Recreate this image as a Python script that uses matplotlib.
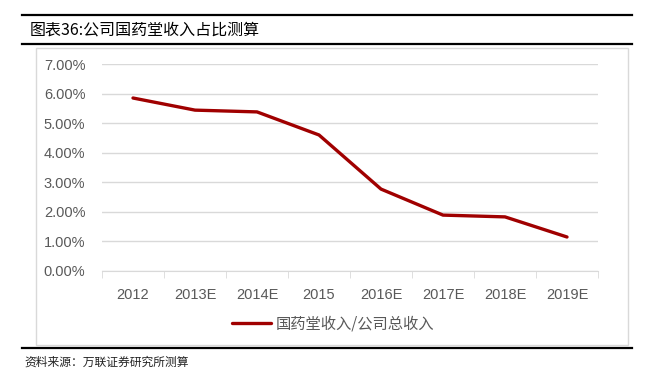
import matplotlib
matplotlib.use('Agg')
import matplotlib.pyplot as plt
from matplotlib.lines import Line2D
from matplotlib.patches import Rectangle

plt.rcParams['font.family'] = ['Noto Sans CJK SC', 'DejaVu Sans']

years = ['2012', '2013E', '2014E', '2015', '2016E', '2017E', '2018E', '2019E']
share = [5.85, 5.44, 5.38, 4.60, 2.77, 1.89, 1.83, 1.15]  # %
yticks = [0, 1, 2, 3, 4, 5, 6, 7]

W, H = 646, 370
fig = plt.figure(figsize=(W / 100, H / 100), dpi=100)


def fx(px):
    return px / W


def fy(py):
    return 1 - py / H


# frame lines and chart box
for y in (15, 44, 348):
    fig.add_artist(Line2D([fx(22), fx(632)], [fy(y), fy(y)], color='black', lw=1.6))
fig.add_artist(Rectangle((fx(36), fy(345)), fx(628) - fx(36), fy(48) - fy(345),
                         fill=False, edgecolor='#D9D9D9', lw=1.0))

fig.text(fx(30), fy(30), '图表36:公司国药堂收入占比测算', fontsize=11.5, va='center', ha='left')
fig.text(fx(24), fy(362), '资料来源：万联证券研究所测算', fontsize=8.5, va='center', ha='left',
         style='italic', color='#222222')

ax = fig.add_axes([fx(102), fy(271), fx(598) - fx(102), fy(64) - fy(271)])
x = range(len(years))
ax.plot(x, share, color='#A00000', lw=2.4, solid_joinstyle='round', solid_capstyle='round',
        label='国药堂收入/公司总收入')

ax.set_xlim(-0.5, len(years) - 0.5)
ax.set_ylim(0, 7)
ax.set_yticks(yticks)
ax.set_yticklabels([f'{v:.2f}%' for v in yticks])
ax.set_xticks(list(x))
ax.set_xticklabels(years)
ax.set_xticks([i - 0.5 for i in range(len(years) + 1)], minor=True)
ax.tick_params(axis='x', which='major', length=0, pad=12, labelsize=10.5, labelcolor='#595959')
ax.tick_params(axis='x', which='minor', length=5, color='#D9D9D9', direction='out')
ax.tick_params(axis='y', length=0, pad=12, labelsize=10.5, labelcolor='#595959')
for lab in ax.get_xticklabels() + ax.get_yticklabels():
    lab.set_family(['Liberation Sans', 'DejaVu Sans'])
ax.grid(axis='y', color='#D9D9D9', lw=1.0)
ax.set_axisbelow(True)
for s in ('top', 'right', 'left'):
    ax.spines[s].set_visible(False)
ax.spines['bottom'].set_color('#D9D9D9')

leg = fig.legend(loc='center', bbox_to_anchor=(fx(333), fy(324)), frameon=False, fontsize=11,
                 handlelength=2.6, handletextpad=0.3)
for t in leg.get_texts():
    t.set_color('#595959')

fig.savefig('out.png', dpi=100)
